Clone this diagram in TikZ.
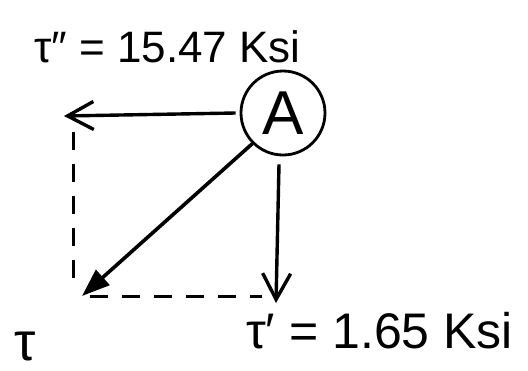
\documentclass[tikz,border=0pt]{standalone}
\usepackage{fontspec}
\setmainfont{Liberation Sans}
\usetikzlibrary{arrows.meta}
\begin{document}
\begin{tikzpicture}[x=1pt,y=-1pt,
  vec/.style={line width=3.4pt,-{Straight Barb[length=26pt,width=28pt,line width=3.4pt]}},
  res/.style={line width=3.6pt,-{Triangle[length=28pt,width=20pt]}},
  guide/.style={line width=3pt,dash pattern=on 18pt off 14pt},
  lbl/.style={font=\fontsize{44}{50}\selectfont,inner sep=0pt}]
\useasboundingbox (0,0) rectangle (528,370);
\node[draw,circle,line width=2.8pt,minimum size=84pt,inner sep=0pt,font=\fontsize{62}{70}\selectfont] (A) at (283,113) {A};
\coordinate (L) at (64,116);
\coordinate (D) at (276,303);
\coordinate (T) at (82,296);
\coordinate (G1) at (73,132);
\coordinate (G2) at (73,288);
\coordinate (G3) at (90,296);
\coordinate (G4) at (262,296);
\draw[vec] (A.west) ++(-4,0) -- (L);
\draw[vec] (A.south) ++(-4,8) -- (D);
\draw[res] (A.225) -- (T);
\draw[guide] (G1) -- (G2);
\draw[guide] (G3) -- (G4);
\node[lbl,anchor=base west] (t2) at (34,62) {τ″ = 15.47 Ksi};
\node[lbl,anchor=base west,font=\fontsize{50}{56}\selectfont] (t1) at (246,348) {τ′ = 1.65 Ksi};
\node[lbl,anchor=base west,font=\fontsize{54}{60}\selectfont] (t0) at (14,360) {τ};
\end{tikzpicture}
\end{document}
